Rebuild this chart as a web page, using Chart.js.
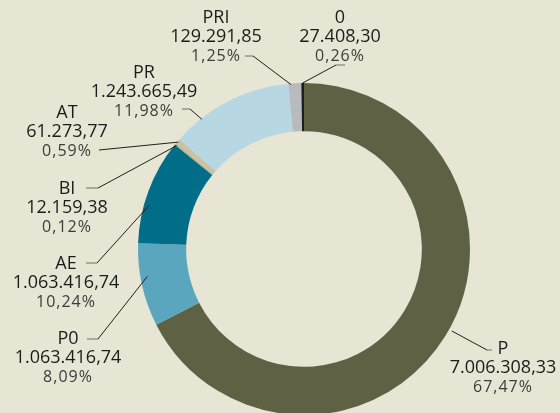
<!DOCTYPE html>
<html>
<head>
<meta charset="utf-8">
<script src="https://cdn.jsdelivr.net/npm/chart.js@4/dist/chart.umd.min.js"></script>
<style>
  html, body { margin: 0; padding: 0; background: #e7e5d3; }
  #wrap { width: 560px; height: 413px; }
</style>
</head>
<body>
<div id="wrap"><canvas id="donut" width="560" height="413"></canvas></div>
<script>
// slices, clockwise from 12 o'clock
const labels = ['P', 'P0', 'AE', 'BI', 'AT', 'PR', 'PRI', '0'];
const shares = [67.47, 8.09, 10.24, 0.12, 0.59, 11.98, 1.25, 0.26];
const amounts = ['7.006.308,33', '1.063.416,74', '1.063.416,74', '12.159,38', '61.273,77', '1.243.665,49', '129.291,85', '27.408,30'];
const percents = ['67,47%', '8,09%', '10,24%', '0,12%', '0,59%', '11,98%', '1,25%', '0,26%'];
const colors = ['#5e6143', '#5ba6bf', '#006e88', '#a9a285', '#c9c2a3', '#b7d7e3', '#b9babd', '#1e1e1e'];

// where each label sits: text centre x, first line y, stub (text side -> bend), anchor on the arc
const labelLayout = [
  { x: 503, y: 349, stub: [[492, 350], [487, 350]], frac: 0.49, dr: 3 },
  { x: 68,  y: 339, stub: [[87, 339], [98, 339]],   frac: 0.59, dr: -7 },
  { x: 66,  y: 264, stub: [[86, 263], [97, 263]],   frac: 0.37, dr: -5 },
  { x: 67,  y: 189, stub: [[86, 188], [98, 188]],   frac: 0.5,  dr: -2 },
  { x: 67,  y: 113, stub: [[99, 150], [99, 150]],   frac: 0.5,  dr: -1 },
  { x: 144, y: 73,  stub: [[182, 109], [190, 109]], frac: 0.24, dr: -1 },
  { x: 216, y: 18,  stub: [[245, 56], [253, 56]],   frac: 0.2,  dr: -1 },
  { x: 340, y: 18,  stub: [[345, 65], [336, 65]],   frac: 0.5,  dr: 0 }
];

const calloutPlugin = {
  id: 'callouts',
  afterDraw(chart) {
    const ctx = chart.ctx;
    const meta = chart.getDatasetMeta(0);
    ctx.save();
    ctx.textAlign = 'center';
    ctx.textBaseline = 'middle';
    labels.forEach((name, i) => {
      const L = labelLayout[i];
      const arc = meta.data[i];
      const a = arc.startAngle + (arc.endAngle - arc.startAngle) * L.frac;
      const r = arc.outerRadius + L.dr;
      const ax = arc.x + Math.cos(a) * r;
      const ay = arc.y + Math.sin(a) * r;

      // leader line
      ctx.lineWidth = 1;
      ctx.strokeStyle = '#6e6e6a';
      ctx.beginPath();
      ctx.moveTo(L.stub[0][0], L.stub[0][1]);
      ctx.lineTo(L.stub[1][0], L.stub[1][1]);
      ctx.stroke();
      ctx.strokeStyle = '#1f1f1f';
      ctx.beginPath();
      ctx.moveTo(L.stub[1][0], L.stub[1][1]);
      ctx.lineTo(ax, ay);
      ctx.stroke();

      // text
      ctx.fillStyle = '#1c1c1c';
      ctx.font = '18px "Open Sans"';
      ctx.letterSpacing = '0px';
      ctx.fillText(name, L.x, L.y);
      ctx.fillText(amounts[i], L.x, L.y + 19);
      ctx.fillStyle = '#3c3c3c';
      ctx.font = '16px "Open Sans"';
      ctx.letterSpacing = '1px';
      ctx.fillText(percents[i], L.x, L.y + 38.5);
    });
    ctx.restore();
  }
};

new Chart(document.getElementById('donut'), {
  type: 'doughnut',
  data: {
    labels: labels,
    datasets: [{
      data: shares,
      backgroundColor: colors,
      borderWidth: 0,
      clip: false
    }]
  },
  options: {
    responsive: false,
    animation: false,
    radius: 166,
    cutout: '71%',
    layout: { padding: { left: 140, right: 92, top: 85, bottom: 0 } },
    plugins: {
      legend: { display: false },
      tooltip: { enabled: false }
    }
  },
  plugins: [calloutPlugin]
});
</script>
</body>
</html>
